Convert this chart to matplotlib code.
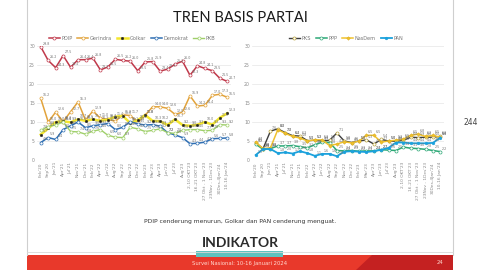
import matplotlib
matplotlib.use("Agg")
import matplotlib.pyplot as plt
from matplotlib.patches import Rectangle, Polygon
from matplotlib.lines import Line2D

cats = ["Feb'20", "Sep'20", "Jan'21", "Apr'21", "Jul'21", "Nov'21", "Dec'21",
        "Feb'22", "Apr'22", "Jun'22", "Aug'22", "Sep'22", "Nov'22", "Dec'22",
        "Feb'23", "Mar'23", "Apr'23", "Jun'23", "Jul'23", "Aug'23",
        "2-10 OKT'23", "16-21 OKT'23", "27 Okt - 1 Nov'23", "23Nov - 1Des'23",
        "30Des-4Jan'24", "10-16 Jan'24"]

pdip = [29.8, 26.2, 24.3, 27.5, 24.4, 26.4, 26.4, 26.8, 23.7, 24.5, 26.5, 26.2, 26.0,
        23.5, 25.8, 25.9, 23.4, 23.9, 25.2, 26.0, 22.3, 24.8, 24.1, 23.5, 21.5, 20.7]
gerindra = [16.2, 10.0, 12.6, 10.1, 12.7, 15.3, 10.5, 12.9, 11.0, 10.7, 10.2, 11.9, 11.7,
            9.9, 11.8, 14.0, 14.0, 13.6, 12.0, 12.6, 16.9, 14.2, 14.4, 17.0, 17.3, 16.5]
golkar = [6.7, 8.3, 10.0, 10.2, 9.9, 10.7, 10.3, 10.7, 10.3, 10.6, 11.4, 11.6, 9.7,
          10.5, 11.8, 10.3, 10.2, 9.2, 10.7, 9.2, 9.0, 9.3, 10.0, 9.3, 11.1, 12.3]
demokrat = [4.6, 5.9, 5.4, 8.0, 9.0, 10.0, 8.5, 9.0, 9.3, 9.6, 8.0, 8.6, 10.1,
            9.5, 9.2, 9.3, 8.9, 7.2, 6.6, 5.9, 4.3, 4.4, 4.7, 5.6, 5.7, 5.8]
pkb = [7.8, 8.8, 9.2, 10.0, 7.5, 7.4, 6.8, 7.6, 8.0, 6.5, 6.0, 5.9, 8.6,
       8.2, 7.5, 7.8, 8.2, 7.2, 7.0, 7.8, 8.0, 8.0, 7.7, 7.8, 9.3, 9.2]

pks = [4.5, 3.0, 7.6, 8.2, 7.2, 6.4, 6.3, 5.1, 5.2, 5.0, 5.2, 7.1, 5.0,
       4.6, 5.0, 5.3, 4.2, 5.4, 5.0, 4.9, 5.2, 6.0, 5.9, 6.0, 6.0, 6.2]
ppp = [4.2, 2.8, 3.0, 3.7, 3.7, 3.8, 3.5, 3.2, 4.0, 4.7, 4.6, 2.5, 2.4,
       2.5, 2.3, 2.4, 2.4, 2.7, 2.6, 2.5, 3.4, 3.1, 3.0, 2.8, 2.5, 2.2]
nasdem = [4.7, 3.0, 3.2, 8.0, 7.0, 6.2, 5.8, 5.0, 5.3, 5.3, 3.8, 4.2, 4.8,
          4.5, 5.0, 6.5, 6.5, 4.7, 5.0, 5.2, 5.5, 6.5, 6.8, 6.2, 6.5, 6.0]
pan = [1.3, 2.9, 2.9, 1.8, 2.0, 1.7, 2.3, 1.8, 1.1, 1.6, 1.6, 1.0, 2.2,
       2.3, 2.2, 2.1, 2.3, 2.7, 3.2, 4.6, 4.6, 4.4, 4.4, 4.4, 4.5, 5.9]

yticks = [0, 5, 10, 15, 20, 25, 30]

W, H = 480, 270
fig = plt.figure(figsize=(4.8, 2.7), dpi=100)
fig.patch.set_facecolor("white")

def fx(px):
    return px / W

def fy(py):
    return 1 - py / H

# slide frame
fig.add_artist(Line2D([fx(27), fx(27)], [fy(0), fy(255)], color="#cfcfcf", lw=0.8))
fig.add_artist(Line2D([fx(453), fx(453)], [fy(0), fy(255)], color="#cfcfcf", lw=0.8))
fig.add_artist(Line2D([fx(27), fx(453)], [fy(252), fy(252)], color="#d8d8d8", lw=0.6))

fig.text(fx(240), fy(18), "TREN BASIS PARTAI", ha="center", va="center",
         fontsize=10.5, color="#1a1a1a", family="Lato")

x = list(range(len(cats)))

def style_ax(ax):
    ax.set_xlim(-0.5, len(cats) - 0.5)
    ax.set_ylim(0, 30)
    ax.set_yticks(yticks)
    ax.set_yticklabels([str(t) for t in yticks], fontsize=3.3, color="#8a8a8a")
    ax.set_xticks(x)
    ax.set_xticklabels(cats, rotation=90, fontsize=3.2, color="#8a8a8a")
    ax.tick_params(length=0, pad=1.5)
    for s in ax.spines.values():
        s.set_visible(False)
    ax.grid(axis="y", color="#e6e6e6", lw=0.5)
    ax.set_axisbelow(True)
    ax.patch.set_alpha(0)

def labels(ax, vals, color="#707070"):
    for i, v in enumerate(vals):
        ax.annotate(f"{v:.1f}", (i, v), xytext=(1.2, 0.8), textcoords="offset points",
                    fontsize=2.3, color=color, ha="left", va="bottom")

axL = fig.add_axes([fx(37), fy(160), fx(231) - fx(37), fy(46) - fy(160)])
style_ax(axL)
axL.plot(x, pdip, color="#c0394b", lw=1.1, marker="o", ms=2.2, mfc="white", mew=0.5, label="PDIP")
axL.plot(x, gerindra, color="#e2a33b", lw=1.1, marker="o", ms=2.2, mfc="white", mew=0.5, label="Gerindra")
axL.plot(x, golkar, color="#f4e62e", lw=1.8, marker="o", ms=1.8, mfc="#222222", mec="#222222", mew=0.3, label="Golkar")
axL.plot(x, demokrat, color="#2f6fb3", lw=1.1, marker="o", ms=2.2, mfc="white", mew=0.5, label="Demokrat")
axL.plot(x, pkb, color="#9fcf6a", lw=1.0, marker="o", ms=2.2, mfc="white", mew=0.5, label="PKB")
for s in (pdip, gerindra, golkar, demokrat, pkb):
    labels(axL, s)
legL = axL.legend(loc="lower center", bbox_to_anchor=(0.49, 1.03), ncol=5, fontsize=3.6,
                  frameon=False, handlelength=2.2, columnspacing=1.0, handletextpad=0.3,
                  borderaxespad=0)
for t in legL.get_texts():
    t.set_color("#777777")

axR = fig.add_axes([fx(252), fy(160), fx(444) - fx(252), fy(46) - fy(160)])
style_ax(axR)
axR.plot(x, pks, color="#3d3d3d", lw=1.0, marker="o", ms=2.2, mfc="white", mec="#b8a23a", mew=0.5, label="PKS")
axR.plot(x, ppp, color="#2ca876", lw=1.1, marker="o", ms=2.2, mfc="white", mew=0.5, label="PPP")
axR.plot(x, nasdem, color="#f0c22e", lw=1.1, marker="D", ms=1.8, mfc="#f0c22e", mec="#d9a81a", mew=0.3, label="NasDem")
axR.plot(x, pan, color="#1ba1dc", lw=1.3, marker="o", ms=2.0, mfc="#1ba1dc", mew=0.3, label="PAN")
for s in (pks, ppp, nasdem, pan):
    labels(axR, s)
legR = axR.legend(loc="lower center", bbox_to_anchor=(0.49, 1.03), ncol=4, fontsize=3.6,
                  frameon=False, handlelength=2.2, columnspacing=1.0, handletextpad=0.3,
                  borderaxespad=0)
for t in legR.get_texts():
    t.set_color("#777777")

fig.text(fx(240), fy(222), "PDIP cenderung menurun, Golkar dan PAN cenderung menguat.",
         ha="center", va="center", fontsize=4.3, color="#333333")

fig.text(fx(240), fy(243), "INDIKATOR", ha="center", va="center", fontsize=10,
         fontweight="bold", color="#2b2b2b", family="Lato")

# footer
fig.add_artist(Rectangle((fx(27), 0), fx(453) - fx(27), fy(255), transform=fig.transFigure,
                         facecolor="#e8392b", edgecolor="none"))
fig.add_artist(Polygon([(fx(372), fy(255)), (fx(453), fy(255)), (fx(453), 0), (fx(356), 0)],
                       closed=True, transform=fig.transFigure, facecolor="#c42121", edgecolor="none"))
fig.add_artist(Rectangle((fx(196), fy(256.5)), fx(283) - fx(196), fy(251) - fy(256.5),
                         transform=fig.transFigure, facecolor="#5fc3bf", edgecolor="none"))
fig.text(fx(240), fy(263), "Survei Nasional: 10-16 Januari 2024", ha="center", va="center",
         fontsize=3.8, color="#ffd9d0")
fig.text(fx(440), fy(263), "24", ha="center", va="center", fontsize=3.8, color="#ffd9d0")

fig.text(fx(463), fy(123), "244", ha="left", va="center", fontsize=5.5, color="#444444")

fig.savefig("out.png", dpi=100)
